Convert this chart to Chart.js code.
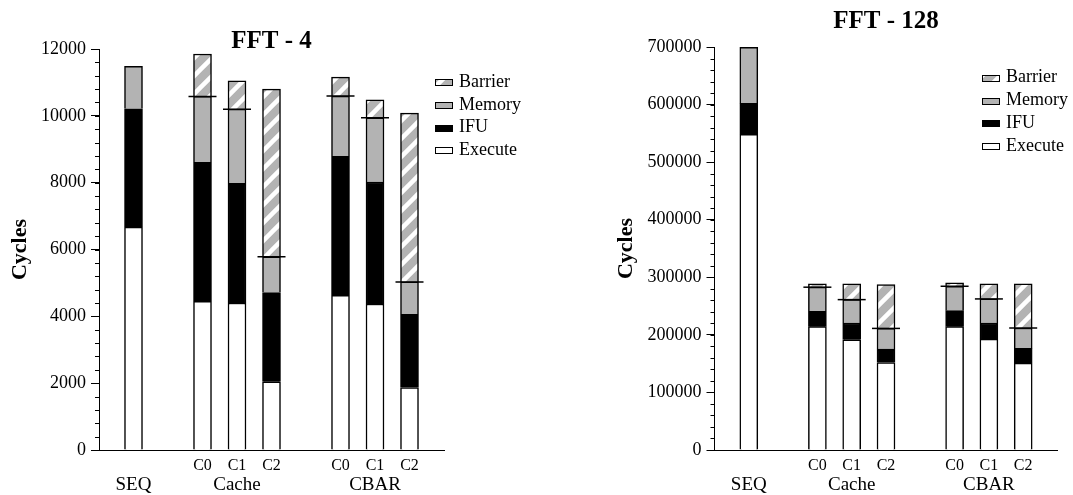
<!DOCTYPE html>
<html>
<head>
<meta charset="utf-8">
<script src="https://cdn.jsdelivr.net/npm/chart.js@4/dist/chart.umd.min.js"></script>
<style>
  html, body { margin: 0; padding: 0; background: #fff; }
  #wrap { display: flex; width: 1073px; height: 495px; }
  canvas { display: block; }
</style>
</head>
<body>
<div id="wrap">
  <canvas id="fft4" width="536" height="495"></canvas>
  <canvas id="fft128" width="537" height="495"></canvas>
</div>
<script>
// Slots along the x axis; the blank slots open gaps between the groups
const barLabels   = ['', '', '', 'C0', 'C1', 'C2', '', 'C0', 'C1', 'C2', ''];
const groupLabels = ['', 'SEQ', '', '', 'Cache', '', '', '', 'CBAR', '', ''];
const seriesNames = ['Execute', 'IFU', 'Memory', 'Barrier'];

// FFT - 4 (cycles)
const execute4 = [null, 6670, null, 4450, 4400, 2040, null, 4630, 4370, 1870, null];
const ifu4     = [null, 3540, null, 4160, 3580, 2670, null, 4160, 3650, 2190, null];
const memory4  = [null, 1270, null, 1970, 2220, 1070, null, 1800, 1920,  970, null];
const barrier4 = [null, null, null, 1270,  850, 5020, null,  570,  540, 5050, null];
const marker4  = [null, null, null, 10580, 10200, 5780, null, 10590, 9940, 5030, null];

// FFT - 128 (cycles)
const execute128 = [null, 548500, null, 214200, 191500, 152000, null, 214200, 192700, 151000, null];
const ifu128     = [null,  53500, null,  26600,  29100,  23300, null,  27800,  27900,  25400, null];
const memory128  = [null,  97500, null,  42000,  40600,  35900, null,  42400,  41800,  35500, null];
const barrier128 = [null,   null, null,   5700,  27300,  76100, null,   5900,  26100,  76600, null];
const marker128  = [null,   null, null, 282800, 261200, 211200, null, 284400, 262400, 211900, null];

const FONT = '"Liberation Serif", "Times New Roman", serif';
const GRAY = '#b3b3b3';
Chart.defaults.font.family = FONT;
Chart.defaults.color = '#000';

// Gray fill with white "/" stripes for the barrier segments
function makeHatch() {
  const s = 18;
  const c = document.createElement('canvas');
  c.width = s; c.height = s;
  const g = c.getContext('2d');
  g.fillStyle = GRAY;
  g.fillRect(0, 0, s, s);
  g.strokeStyle = '#fff';
  g.lineWidth = 4.5;
  g.beginPath();
  g.moveTo(-s / 2, s / 2); g.lineTo(s / 2, -s / 2);
  g.moveTo(0, s); g.lineTo(s, 0);
  g.moveTo(s / 2, s * 1.5); g.lineTo(s * 1.5, s / 2);
  g.stroke();
  return g.createPattern(c, 'repeat');
}
const hatch = makeHatch();

// Minor y ticks and the series key drawn over the plot
const decor = {
  id: 'decor',
  afterDraw(chart, args, o) {
    const ctx = chart.ctx;
    const y = chart.scales.y;
    ctx.save();
    ctx.strokeStyle = '#000';
    ctx.lineWidth = 1;
    const n = Math.round((y.max - y.min) / o.minorStep);
    for (let i = 0; i <= n; i++) {
      const py = Math.round(y.getPixelForValue(y.min + i * o.minorStep)) + 0.5;
      ctx.beginPath();
      ctx.moveTo(y.right - 4, py);
      ctx.lineTo(y.right, py);
      ctx.stroke();
    }
    const items = chart.data.datasets.filter(d => d.type !== 'line').slice().reverse();
    ctx.font = Chart.helpers.toFont({ family: FONT, size: 18 }).string;
    ctx.textBaseline = 'middle';
    ctx.textAlign = 'left';
    items.forEach((d, i) => {
      const cy = o.legendY + i * o.rowGap;
      ctx.fillStyle = d.backgroundColor;
      ctx.fillRect(o.legendX, Math.round(cy) - 3, 18, 7);
      ctx.strokeRect(o.legendX + 0.5, Math.round(cy) - 2.5, 17, 6);
      ctx.fillStyle = '#000';
      ctx.fillText(d.label, o.legendX + 24, cy);
    });
    ctx.restore();
  }
};

function barSet(label, data, color) {
  return {
    type: 'bar', label, data,
    backgroundColor: color,
    borderColor: '#000',
    borderWidth: 1.5,
    barThickness: 18,
    order: 1
  };
}

function makeChart(id, cfg) {
  return new Chart(document.getElementById(id), {
    data: {
      labels: barLabels,
      datasets: [
        barSet(seriesNames[0], cfg.execute, '#ffffff'),
        barSet(seriesNames[1], cfg.ifu, '#000000'),
        barSet(seriesNames[2], cfg.memory, GRAY),
        barSet(seriesNames[3], cfg.barrier, hatch),
        {
          type: 'line', label: 'marker', data: cfg.marker,
          showLine: false, pointStyle: 'line', pointRadius: 14,
          borderColor: '#000', pointBorderColor: '#000', pointBorderWidth: 1.5,
          order: 0
        }
      ]
    },
    plugins: [decor],
    options: {
      responsive: false,
      animation: false,
      devicePixelRatio: 1,
      events: [],
      layout: { padding: { left: 0, right: cfg.padRight, top: 0, bottom: 0 } },
      plugins: {
        legend: { display: false },
        tooltip: { enabled: false },
        title: {
          display: true, text: cfg.title, fullSize: false,
          color: '#000',
          font: { family: FONT, size: 25, weight: 'bold' },
          padding: { top: cfg.titleTop, bottom: cfg.titleBottom }
        },
        decor: { minorStep: cfg.minorStep, legendX: cfg.legendX, legendY: cfg.legendY, rowGap: 22.8 }
      },
      scales: {
        x: {
          type: 'category', position: 'bottom', stacked: true, offset: false,
          grid: { display: false, drawTicks: false },
          border: { display: true, color: '#000', width: 1 },
          ticks: { autoSkip: false, maxRotation: 0, minRotation: 0, padding: 6,
                   font: { family: FONT, size: 16 }, color: '#000' },
          afterFit: s => { s.height = 22; }
        },
        x2: {
          type: 'category', position: 'bottom', labels: groupLabels, offset: false,
          grid: { display: false, drawTicks: false },
          border: { display: false },
          ticks: { autoSkip: false, maxRotation: 0, minRotation: 0, padding: 2,
                   font: { family: FONT, size: 19 }, color: '#000' },
          afterFit: s => { s.height = 23; }
        },
        y: {
          stacked: true, min: 0, max: cfg.yMax,
          grid: { display: true, drawOnChartArea: false, drawTicks: true, tickLength: 8,
                  color: '#000', tickColor: '#000', tickWidth: 1 },
          border: { display: true, color: '#000', width: 1 },
          ticks: { stepSize: cfg.yStep, padding: 5, font: { family: FONT, size: 18 }, color: '#000',
                   callback: v => String(v) },
          title: { display: true, text: 'Cycles', color: '#000',
                   font: { family: FONT, size: 22, weight: 'bold' },
                   padding: { top: cfg.yTitlePad, bottom: 0 } },
          afterFit: s => { s.width = cfg.yWidth; }
        }
      }
    }
  });
}

makeChart('fft4', {
  title: 'FFT - 4',
  execute: execute4, ifu: ifu4, memory: memory4, barrier: barrier4, marker: marker4,
  yMax: 12000, yStep: 2000, minorStep: 400,
  yWidth: 99, yTitlePad: 7.5, padRight: 92,
  titleTop: 26.7, titleBottom: -7.7,
  legendX: 435, legendY: 82
});

makeChart('fft128', {
  title: 'FFT - 128',
  execute: execute128, ifu: ifu128, memory: memory128, barrier: barrier128, marker: marker128,
  yMax: 700000, yStep: 100000, minorStep: 20000,
  yWidth: 178.5, yTitlePad: 77.6, padRight: 13.5,
  titleTop: 6.7, titleBottom: 10.3,
  legendX: 446, legendY: 77.7
});
</script>
</body>
</html>
